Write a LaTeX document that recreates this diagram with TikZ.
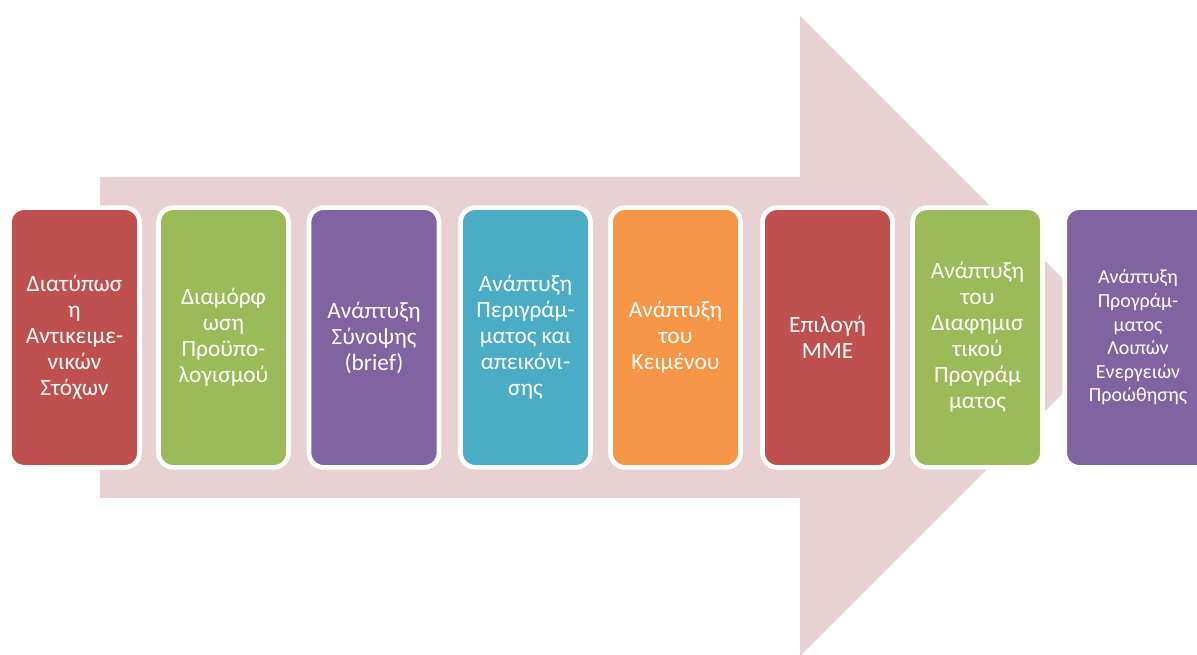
\documentclass[tikz,border=0pt]{standalone}
\usepackage{fontspec}
\setmainfont{Carlito}
\definecolor{arrowpink}{HTML}{E8D1D2}
\definecolor{boxred}{HTML}{C0504D}
\definecolor{boxgreen}{HTML}{9BBB59}
\definecolor{boxpurple}{HTML}{8064A2}
\definecolor{boxblue}{HTML}{4BACC6}
\definecolor{boxorange}{HTML}{F79646}

\begin{document}
\begin{tikzpicture}[x=0.75pt,y=-0.75pt,
  stepbox/.style={rectangle,rounded corners=11pt,draw=white,line width=3.5pt,
    minimum width=97.5pt,minimum height=194.8pt,inner sep=2pt,text=white,
    align=center,font=\fontsize{17.5}{19.5}\selectfont}]
\path[use as bounding box,clip] (0,0) rectangle (1197,655);
%\draw[help lines] (0,0) grid[step=100] (1197,655);

% big arrow in the background
\fill[arrowpink] (100,177) -- (800,177) -- (800,16) -- (1120,336)
  -- (800,656) -- (800,498) -- (100,498) -- cycle;

\path (0,0)
(74.5,337.5) node(form) [stepbox,fill=boxred] {Διατύπωσ\\η\\Αντικειμε-\\νικών\\Στόχων}
(223.5,337.5) node(budget) [stepbox,fill=boxgreen] {Διαμόρφ\\ωση\\Προϋπο-\\λογισμού}
(374,337.5) node(brief) [stepbox,fill=boxpurple] {Ανάπτυξη\\Σύνοψης\\(brief)}
(525.5,337.5) node(layout) [stepbox,fill=boxblue] {Ανάπτυξη\\Περιγράμ-\\ματος και\\απεικόνι-\\σης}
(675.5,337.5) node(copy) [stepbox,fill=boxorange] {Ανάπτυξη\\του\\Κειμένου}
(827.5,337.5) node(media) [stepbox,fill=boxred] {Επιλογή\\ΜΜΕ}
(977.5,337.5) node(adprog) [stepbox,fill=boxgreen] {Ανάπτυξη\\του\\Διαφημισ\\τικού\\Προγράμ\\ματος}
(1138,337.5) node(promo) [stepbox,fill=boxpurple,minimum width=110pt,
  font=\fontsize{15}{17.7}\selectfont] {Ανάπτυξη\\Προγράμ-\\ματος\\Λοιπών\\Ενεργειών\\Προώθησης};
\end{tikzpicture}
\end{document}
